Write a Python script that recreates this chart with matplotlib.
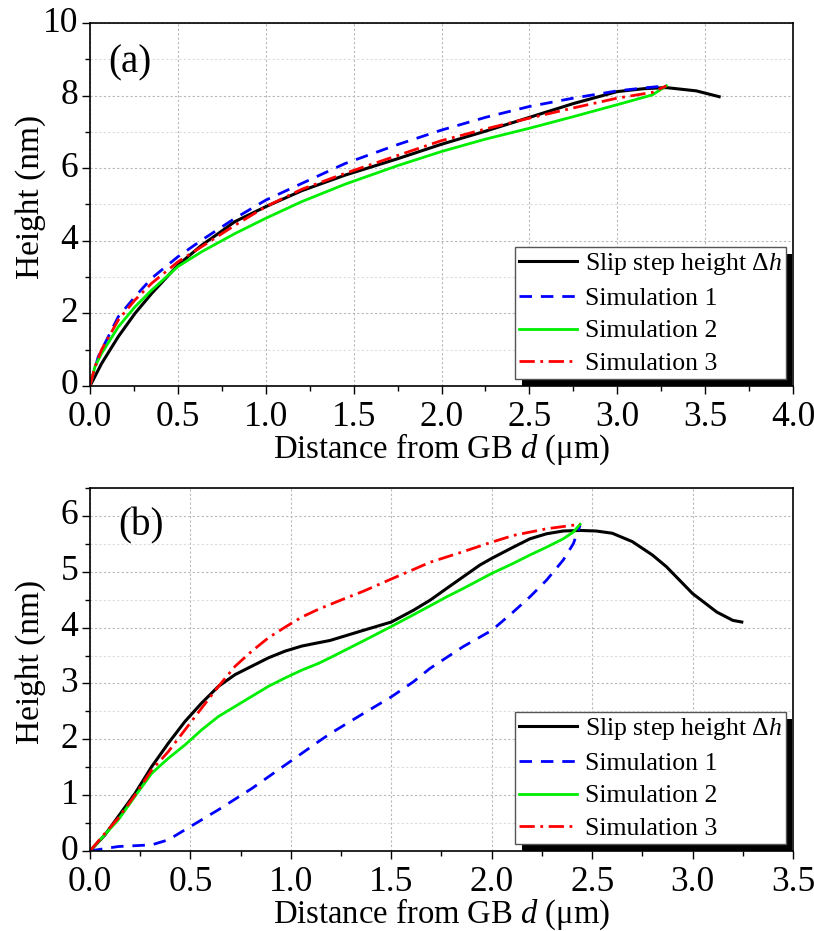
import matplotlib
matplotlib.use("Agg")
import matplotlib.pyplot as plt
from matplotlib.patches import Rectangle
from matplotlib.ticker import MultipleLocator, FormatStrFormatter

plt.rcParams['font.family'] = ['Liberation Serif', 'DejaVu Serif']
plt.rcParams['mathtext.fontset'] = 'custom'
plt.rcParams['mathtext.rm'] = 'Liberation Serif'
plt.rcParams['mathtext.it'] = 'Liberation Serif:italic'
plt.rcParams['ytick.alignment'] = 'center'

# ---------------- Panel (a) data ----------------
a_exp_x = [0.0, 0.066, 0.161, 0.256, 0.351, 0.5, 0.636, 0.73, 0.825, 1.0, 1.205, 1.452, 1.75, 2.0, 2.25, 2.5, 2.75, 3.0, 3.15, 3.28, 3.45, 3.58]
a_exp_y = [0.0, 0.62, 1.36, 2.00, 2.55, 3.33, 3.88, 4.20, 4.53, 4.94, 5.38, 5.81, 6.26, 6.66, 7.02, 7.40, 7.78, 8.11, 8.19, 8.22, 8.13, 7.97]

a_s1_x = [0.0, 0.047, 0.161, 0.256, 0.351, 0.5, 0.636, 0.825, 1.0, 1.205, 1.452, 1.75, 2.0, 2.25, 2.5, 2.75, 3.0, 3.15, 3.28]
a_s1_y = [0.0, 0.81, 1.91, 2.46, 2.97, 3.56, 4.02, 4.62, 5.12, 5.58, 6.13, 6.65, 7.05, 7.40, 7.70, 7.93, 8.13, 8.21, 8.27]

a_s2_x = [0.0, 0.028, 0.066, 0.161, 0.256, 0.351, 0.5, 0.636, 0.825, 1.0, 1.205, 1.452, 1.75, 2.0, 2.25, 2.5, 2.75, 3.0, 3.2, 3.28]
a_s2_y = [0.0, 0.53, 0.90, 1.63, 2.18, 2.64, 3.29, 3.70, 4.20, 4.62, 5.08, 5.56, 6.07, 6.46, 6.80, 7.10, 7.42, 7.75, 8.02, 8.27]

a_s3_x = [0.0, 0.028, 0.066, 0.161, 0.256, 0.351, 0.5, 0.636, 0.825, 1.0, 1.205, 1.452, 1.75, 2.0, 2.25, 2.5, 2.75, 3.0, 3.2, 3.28]
a_s3_y = [0.0, 0.53, 1.00, 1.82, 2.37, 2.83, 3.42, 3.84, 4.43, 4.94, 5.42, 5.86, 6.35, 6.76, 7.08, 7.38, 7.66, 7.93, 8.09, 8.27]

# ---------------- Panel (b) data ----------------
b_exp_x = [0.0, 0.075, 0.141, 0.224, 0.307, 0.39, 0.473, 0.556, 0.64, 0.723, 0.806, 0.889, 0.972, 1.055, 1.138, 1.195, 1.36, 1.5, 1.61, 1.693, 1.775, 1.858, 1.941, 2.0, 2.107, 2.19, 2.273, 2.356, 2.44, 2.52, 2.6, 2.7, 2.8, 2.87, 3.0, 3.12, 3.2, 3.245]
b_exp_y = [0.0, 0.29, 0.62, 1.03, 1.51, 1.93, 2.32, 2.65, 2.95, 3.16, 3.31, 3.46, 3.58, 3.67, 3.73, 3.77, 3.95, 4.10, 4.31, 4.49, 4.70, 4.91, 5.12, 5.24, 5.44, 5.59, 5.68, 5.73, 5.74, 5.73, 5.69, 5.54, 5.30, 5.09, 4.61, 4.28, 4.13, 4.10]

b_s1_x = [0.0, 0.05, 0.141, 0.307, 0.39, 0.473, 0.64, 0.806, 0.972, 1.138, 1.195, 1.36, 1.5, 1.61, 1.693, 1.858, 2.0, 2.107, 2.19, 2.273, 2.356, 2.406, 2.44]
b_s1_y = [0.0, 0.03, 0.08, 0.11, 0.20, 0.38, 0.74, 1.12, 1.54, 1.96, 2.10, 2.46, 2.76, 3.03, 3.27, 3.66, 3.95, 4.28, 4.55, 4.85, 5.21, 5.50, 5.83]

b_s2_x = [0.0, 0.058, 0.141, 0.224, 0.307, 0.39, 0.473, 0.556, 0.64, 0.723, 0.806, 0.889, 0.972, 1.055, 1.138, 1.195, 1.36, 1.5, 1.61, 1.693, 1.775, 1.858, 2.0, 2.107, 2.19, 2.273, 2.356, 2.406, 2.44]
b_s2_y = [0.0, 0.23, 0.56, 0.98, 1.39, 1.66, 1.90, 2.17, 2.41, 2.59, 2.77, 2.95, 3.10, 3.24, 3.36, 3.46, 3.76, 4.02, 4.23, 4.39, 4.55, 4.70, 4.97, 5.15, 5.30, 5.44, 5.59, 5.71, 5.85]

b_s3_x = [0.0, 0.075, 0.141, 0.224, 0.307, 0.39, 0.473, 0.556, 0.64, 0.723, 0.806, 0.889, 0.972, 1.055, 1.138, 1.254, 1.36, 1.5, 1.61, 1.693, 1.858, 2.0, 2.107, 2.273, 2.44]
b_s3_y = [0.0, 0.32, 0.59, 1.00, 1.45, 1.78, 2.17, 2.56, 2.95, 3.31, 3.58, 3.82, 4.01, 4.19, 4.33, 4.50, 4.65, 4.87, 5.04, 5.17, 5.36, 5.53, 5.65, 5.77, 5.85]

labels = ['Slip step height $\u0394h$', 'Simulation 1', 'Simulation 2', 'Simulation 3']
xlabel = 'Distance from GB $d$ (\u03bcm)'
ylabel = 'Height (nm)'

fig = plt.figure(figsize=(8.14, 9.31), dpi=100)
W, H = 814, 931
ax_a = fig.add_axes([90 / W, 1 - 386 / H, 703 / W, 363 / H])
ax_b = fig.add_axes([90 / W, 1 - 851 / H, 703 / W, 363 / H])

styles = [dict(color='black', lw=2.2, ls='-'),
          dict(color='#0000ff', lw=2.0, ls=(0, (4.5, 3.2))),
          dict(color='#00ee00', lw=2.0, ls='-'),
          dict(color='#ff0000', lw=2.0, ls=(0, (5.5, 2, 1, 2)))]


def style_axes(ax, xmax, ymax, ymajor, yminor):
    ax.set_xlim(0, xmax)
    ax.set_ylim(0, ymax)
    ax.xaxis.set_major_locator(MultipleLocator(0.5))
    ax.xaxis.set_minor_locator(MultipleLocator(0.25))
    ax.xaxis.set_major_formatter(FormatStrFormatter('%.1f'))
    ax.yaxis.set_major_locator(MultipleLocator(ymajor))
    ax.yaxis.set_minor_locator(MultipleLocator(yminor))
    ax.tick_params(which='major', direction='out', length=5.5, width=1.0, labelsize=25.5, pad=3)
    ax.tick_params(axis='x', which='major', pad=5)
    ax.tick_params(which='minor', direction='out', length=3.5, width=1.0)
    ax.grid(which='major', axis='both', color='#b8b8b8', ls=(0, (2, 2)), lw=0.8)
    ax.grid(which='minor', axis='y', color='#dcdcdc', ls=(0, (2, 2)), lw=0.8)
    ax.set_axisbelow(True)
    for s in ax.spines.values():
        s.set_linewidth(1.2)
    ax.set_xlabel(xlabel, fontsize=23.5)
    ax.set_ylabel(ylabel, fontsize=24)


def add_legend(ax):
    leg = ax.legend(loc='lower right', bbox_to_anchor=(0.99, 0.019), borderaxespad=0,
                    fontsize=18.5, frameon=True, fancybox=False, edgecolor='#555555',
                    framealpha=1, handlelength=2.26, handletextpad=0.3, labelspacing=0.38,
                    borderpad=0.15)
    leg.get_frame().set_linewidth(1.0)
    leg.set_zorder(10)
    return leg


style_axes(ax_a, 4.0, 10, 2, 1)
ax_a.plot(a_exp_x, a_exp_y, **styles[0], label=labels[0])
ax_a.plot(a_s1_x, a_s1_y, **styles[1], label=labels[1])
ax_a.plot(a_s2_x, a_s2_y, **styles[2], label=labels[2])
ax_a.plot(a_s3_x, a_s3_y, **styles[3], label=labels[3])
ax_a.text(0.026, 0.89, '(a)', transform=ax_a.transAxes, fontsize=28, va='center', ha='left')
leg_a = add_legend(ax_a)

style_axes(ax_b, 3.5, 6.5, 1, 0.5)
ax_b.plot(b_exp_x, b_exp_y, **styles[0], label=labels[0])
ax_b.plot(b_s1_x, b_s1_y, **styles[1], label=labels[1])
ax_b.plot(b_s2_x, b_s2_y, **styles[2], label=labels[2])
ax_b.plot(b_s3_x, b_s3_y, **styles[3], label=labels[3])
ax_b.text(0.04, 0.895, '(b)', transform=ax_b.transAxes, fontsize=28, va='center', ha='left')
leg_b = add_legend(ax_b)

for ax in (ax_a, ax_b):
    ax.yaxis.set_label_coords(-0.063, 0.52)
    ax.xaxis.set_label_coords(0.5, -0.125)

fig.canvas.draw()
for ax, leg in ((ax_a, leg_a), (ax_b, leg_b)):
    bb = leg.get_frame().get_window_extent()
    inv = ax.transAxes.inverted()
    (x0, y0), (x1, y1) = inv.transform([[bb.x0 + 6.5, bb.y0 - 6.5], [bb.x1 + 6.5, bb.y1 - 6.5]])
    r = Rectangle((x0, y0), x1 - x0, y1 - y0, transform=ax.transAxes, facecolor='black',
                  edgecolor='none', zorder=9, clip_on=False)
    ax.add_patch(r)

fig.savefig('out.png', dpi=100)
